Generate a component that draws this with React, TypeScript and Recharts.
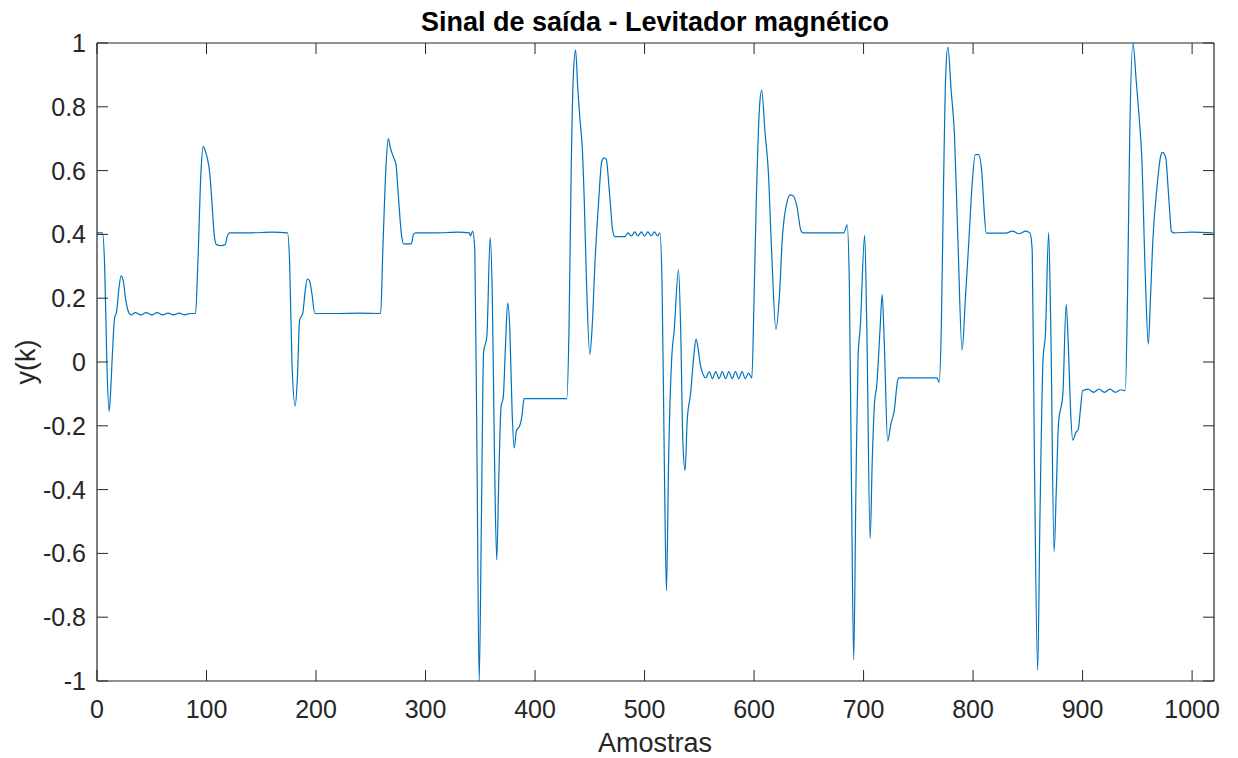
import { LineChart, Line, XAxis, YAxis, Label } from 'recharts';

// Saída do levitador magnético (amostra, y(k)).

const samples = [
  0, 5, 7, 9, 11, 12, 14, 16, 18, 20, 22, 24, 26, 29, 31, 35, 40, 45, 50, 55, 60, 65, 70, 75, 80, 85, 90,
  92, 95, 97, 99, 101, 103, 105, 107, 109, 113, 117, 119, 121, 140, 160, 174,
  176, 178, 181, 183, 185, 188, 190, 192, 194, 196, 199, 220, 240, 259,
  261, 264, 266, 268, 271, 273, 275, 278, 280, 287, 289, 291, 310, 330, 340, 341, 343,
  345, 347, 349, 351, 353, 356, 359, 361, 363, 365, 367, 369, 371, 373, 375, 377, 379, 381, 383, 386, 388, 390, 410, 429,
  431, 433, 435, 437, 439, 441, 443, 445, 447, 450, 452, 455, 458, 461, 463, 465, 468, 471, 473, 482,
  485, 488, 491, 494, 497, 500, 503, 506, 509, 512, 514,
  516, 518, 520, 522, 525, 527, 531, 533, 535, 537, 539, 542, 545, 547, 549, 551, 553,
  556, 559, 562, 565, 568, 571, 574, 577, 580, 583, 586, 589, 592, 595, 598,
  600, 602, 605, 607, 610, 613, 616, 620, 623, 626, 630, 633, 636, 639, 643, 645, 665, 682,
  685, 687, 689, 691, 693, 695, 697, 701, 703, 706, 708, 710, 712, 715, 717, 719, 722, 725, 728, 731, 732, 750, 767,
  769, 771, 773, 775, 777, 780, 783, 786, 790, 793, 796, 799, 802, 805, 808, 810, 812, 830, 836, 842, 848, 852,
  854, 856, 859, 861, 864, 866, 869, 871, 874, 876, 878, 882, 885, 887, 889, 891, 894, 896, 898, 900,
  905, 910, 915, 920, 925, 930, 935, 939,
  941, 943, 946, 949, 952, 954, 957, 960, 962, 964, 968, 971, 973, 976, 978, 980, 981, 983, 1000, 1019,
];

const yk = [
  0.405, 0.405, 0.3, 0.0, -0.155, -0.12, 0.02, 0.135, 0.16, 0.23, 0.27, 0.255, 0.2, 0.155, 0.148, 0.155, 0.148, 0.155, 0.148, 0.155, 0.148, 0.153, 0.148, 0.153, 0.148, 0.152, 0.152,
  0.3, 0.6, 0.676, 0.66, 0.635, 0.59, 0.5, 0.4, 0.368, 0.365, 0.368, 0.395, 0.405, 0.405, 0.407, 0.405,
  0.3, 0.0, -0.138, -0.05, 0.13, 0.155, 0.22, 0.26, 0.255, 0.22, 0.152, 0.152, 0.153, 0.152,
  0.35, 0.62, 0.7, 0.67, 0.64, 0.62, 0.53, 0.4, 0.37, 0.37, 0.4, 0.405, 0.405, 0.407, 0.405, 0.395, 0.41,
  0.35, -0.3, -1.0, -0.5, 0.03, 0.08, 0.39, 0.2, -0.3, -0.62, -0.35, -0.14, -0.11, 0.05, 0.185, 0.1, -0.15, -0.27, -0.215, -0.2, -0.17, -0.115, -0.115, -0.115,
  0.1, 0.6, 0.9, 0.978, 0.86, 0.76, 0.68, 0.5, 0.25, 0.024, 0.1, 0.33, 0.5, 0.63, 0.64, 0.635, 0.53, 0.41, 0.393, 0.393,
  0.405, 0.395, 0.408, 0.395, 0.408, 0.395, 0.408, 0.395, 0.408, 0.395, 0.405,
  0.24, -0.3, -0.717, -0.3, 0.024, 0.096, 0.29, 0.1, -0.25, -0.34, -0.18, -0.1, 0.02, 0.072, 0.04, -0.01, -0.035,
  -0.05, -0.03, -0.052, -0.03, -0.052, -0.03, -0.052, -0.03, -0.052, -0.03, -0.052, -0.03, -0.052, -0.035, -0.05,
  0.2, 0.5, 0.8, 0.852, 0.72, 0.6, 0.35, 0.102, 0.2, 0.397, 0.5, 0.524, 0.52, 0.49, 0.41, 0.405, 0.405, 0.405,
  0.43, 0.25, -0.4, -0.933, -0.4, 0.017, 0.11, 0.397, 0.1, -0.553, -0.3, -0.127, -0.075, 0.1, 0.211, 0.05, -0.248, -0.193, -0.153, -0.06, -0.05, -0.05, -0.05,
  -0.064, 0.109, 0.55, 0.9, 0.987, 0.85, 0.712, 0.4, 0.037, 0.2, 0.371, 0.55, 0.65, 0.65, 0.594, 0.48, 0.404, 0.404, 0.41, 0.402, 0.41, 0.404,
  0.35, -0.3, -0.966, -0.5, 0.017, 0.083, 0.406, 0.1, -0.595, -0.4, -0.193, -0.1, 0.181, 0.05, -0.15, -0.245, -0.22, -0.212, -0.15, -0.09,
  -0.085, -0.095, -0.085, -0.095, -0.085, -0.095, -0.087, -0.09,
  0.2, 0.7, 1.0, 0.88, 0.751, 0.646, 0.3, 0.056, 0.2, 0.371, 0.55, 0.64, 0.657, 0.64, 0.55, 0.45, 0.41, 0.405, 0.407, 0.405,
];

const xTicks = [0, 100, 200, 300, 400, 500, 600, 700, 800, 900, 1000];
const yTicks = [-1, -0.8, -0.6, -0.4, -0.2, 0, 0.2, 0.4, 0.6, 0.8, 1];

const data = samples.map((k, i) => ({ k, y: yk[i] }));

const W = 1238;
const H = 758;
const AX = '#262626';
const FONT = '"Liberation Sans", Arial, sans-serif';

function BottomTick({ x, y, payload }: any) {
  return (
    <g>
      <line x1={x} x2={x} y1={y} y2={y - 11} stroke={AX} strokeWidth={1} />
      <text x={x} y={y + 37} textAnchor="middle" fill={AX} fontSize={25} fontFamily={FONT}>
        {payload.value}
      </text>
    </g>
  );
}

function LeftTick({ x, y, payload }: any) {
  return (
    <g>
      <line x1={x} x2={x + 11} y1={y} y2={y} stroke={AX} strokeWidth={1} />
      <text x={x - 11} y={y + 9} textAnchor="end" fill={AX} fontSize={25} fontFamily={FONT}>
        {payload.value}
      </text>
    </g>
  );
}

function TopTick({ x, y }: any) {
  return <line x1={x} x2={x} y1={y} y2={y + 11} stroke={AX} strokeWidth={1} />;
}

function RightTick({ x, y }: any) {
  return <line x1={x} x2={x - 11} y1={y} y2={y} stroke={AX} strokeWidth={1} />;
}

export default function App() {
  return (
    <div style={{ position: 'absolute', left: 0, top: 0, width: W, height: H, background: '#fff' }}>
      <LineChart width={W} height={H} data={data} margin={{ top: 42, right: 23, left: 0, bottom: 0 }}>
        <XAxis
          dataKey="k"
          type="number"
          domain={[0, 1020]}
          ticks={xTicks}
          interval={0}
          allowDataOverflow
          height={77}
          tickSize={0}
          tickMargin={0}
          tickLine={false}
          tick={<BottomTick />}
          axisLine={{ stroke: AX, strokeWidth: 1.2 }}
        >
          <Label
            content={() => (
              <text x={655} y={752} textAnchor="middle" fill={AX} fontSize={27} fontFamily={FONT}>
                Amostras
              </text>
            )}
          />
          <Label
            content={() => (
              <text x={655} y={31} textAnchor="middle" fill="#000" fontSize={27} fontWeight="bold" fontFamily={FONT}>
                Sinal de saída - Levitador magnético
              </text>
            )}
          />
        </XAxis>
        <XAxis
          xAxisId="top"
          orientation="top"
          dataKey="k"
          type="number"
          domain={[0, 1020]}
          ticks={xTicks}
          interval={0}
          allowDataOverflow
          height={1}
          tickSize={0}
          tickMargin={0}
          tickLine={false}
          tick={<TopTick />}
          axisLine={{ stroke: AX, strokeWidth: 1.2 }}
        />
        <YAxis
          type="number"
          domain={[-1, 1]}
          ticks={yTicks}
          interval={0}
          allowDataOverflow
          width={97}
          tickSize={0}
          tickMargin={0}
          tickLine={false}
          tick={<LeftTick />}
          axisLine={{ stroke: AX, strokeWidth: 1.2 }}
        >
          <Label
            content={() => (
              <text
                x={35}
                y={362}
                textAnchor="middle"
                fill={AX}
                fontSize={27}
                fontFamily={FONT}
                transform="rotate(-90 35 362)"
              >
                y(k)
              </text>
            )}
          />
        </YAxis>
        <YAxis
          yAxisId="right"
          orientation="right"
          type="number"
          domain={[-1, 1]}
          ticks={yTicks}
          interval={0}
          allowDataOverflow
          width={1}
          tickSize={0}
          tickMargin={0}
          tickLine={false}
          tick={<RightTick />}
          axisLine={{ stroke: AX, strokeWidth: 1.2 }}
        />
        {/* serve apenas para ligar os eixos de cima e da direita (moldura) */}
        <Line
          xAxisId="top"
          yAxisId="right"
          dataKey="y"
          stroke="none"
          dot={false}
          activeDot={false}
          isAnimationActive={false}
        />
        <Line
          type="monotone"
          dataKey="y"
          stroke="#0072BD"
          strokeWidth={1.2}
          dot={false}
          isAnimationActive={false}
        />
      </LineChart>
    </div>
  );
}
